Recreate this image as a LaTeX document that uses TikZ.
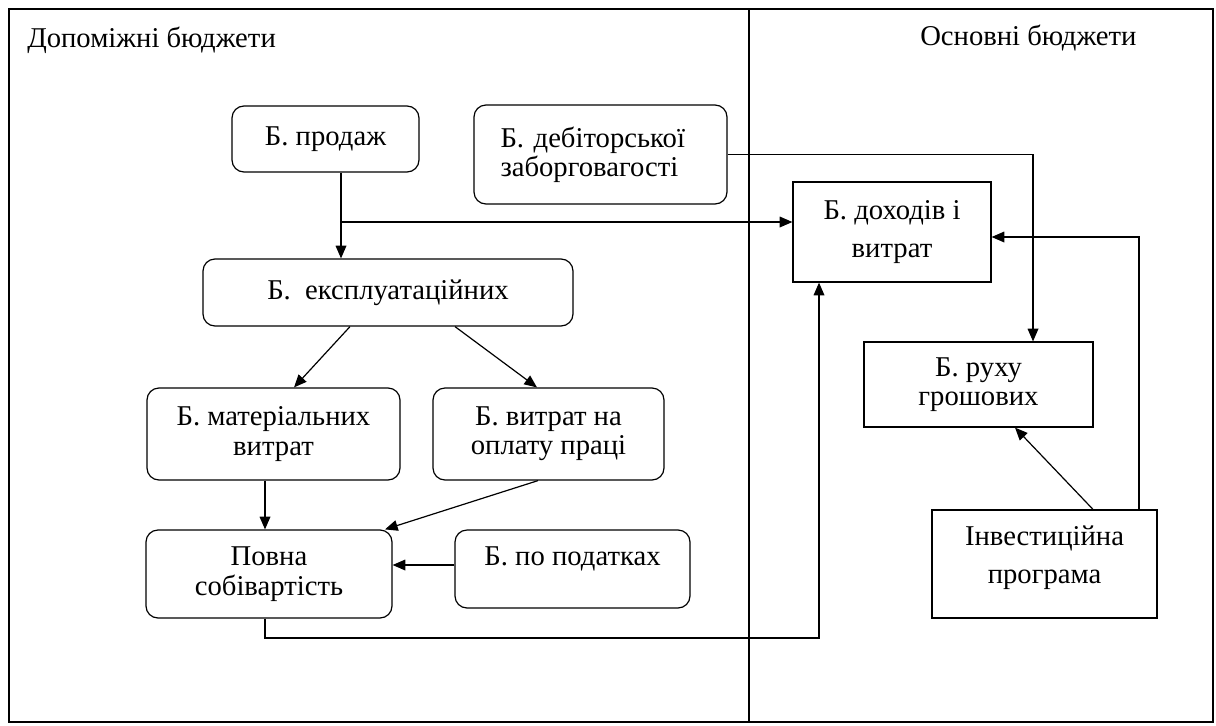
\documentclass[tikz,border=0pt]{standalone}
\usepackage{fontspec}
\setmainfont{Liberation Serif}
\usetikzlibrary{arrows.meta,calc}
\begin{document}
\begin{tikzpicture}[x=0.75pt,y=-0.75pt,
  txt/.style={font=\fontsize{21.5}{22}\selectfont},
  rbox/.style={draw, rounded corners=9pt, line width=0.9pt, align=center, inner sep=0pt, txt},
  sbox/.style={draw, line width=0.9pt, align=center, inner sep=0pt, txt},
  arr/.style={-{Triangle[length=9.5pt,width=8pt]}, line width=0.9pt},
  frame/.style={line width=0.9pt}]
\useasboundingbox (0,0) rectangle (1216,725);
% frame
\coordinate (f1) at (9,9);
\coordinate (f2) at (1213,722);
\coordinate (d1) at (749,9);
\coordinate (d2) at (749,722);
\draw[frame] (f1) rectangle (f2);
\draw[frame] (d1) -- (d2);
\node[txt, anchor=west, inner sep=0pt] (t1) at (27,40) {Допоміжні бюджети};
\node[txt, anchor=west, inner sep=0pt] (t2) at (920,38) {Основні бюджети};
% boxes
\node[rbox, minimum width=140.25pt, minimum height=49.5pt] (prod) at (325.5,139) {Б. продаж};
\node[rbox, minimum width=189.75pt, minimum height=74.25pt, text width=150pt, align=left] (deb) at (600.5,154.5) {Б. дебіторської\\заборговагості};
\node[rbox, minimum width=277.5pt, minimum height=50.25pt] (expl) at (388,292.5) {Б.\ \ експлуатаційних};
\node[rbox, minimum width=189.75pt, minimum height=69pt] (mat) at (273.5,434) {Б. матеріальних\\витрат};
\node[rbox, minimum width=173.25pt, minimum height=69pt] (opl) at (548.5,434) {Б. витрат на\\оплату праці};
\node[rbox, minimum width=184.5pt, minimum height=66pt] (povna) at (269,574) {Повна\\собівартість};
\node[rbox, minimum width=176.25pt, minimum height=58.5pt] (pod) at (572.5,569) {Б. по податках\\[-3pt]\mbox{}};
\node[sbox, minimum width=148.5pt, minimum height=75pt] (doh) at (892,232) {Б. доходів і\\[7pt]витрат};
\node[sbox, minimum width=171.75pt, minimum height=63.75pt] (ruh) at (978.5,384.5) {Б. руху\\грошових};
\node[sbox, minimum width=168.75pt, minimum height=81pt] (inv) at (1044.5,564) {Інвестиційна\\[6pt]програма\\[-8pt]\mbox{}};
% helper coordinates
\coordinate (j) at (341,222);
\coordinate (c1) at (1033,154);
\coordinate (b1) at (265,638);
\coordinate (b2) at (819,638);
\coordinate (r1) at (1139,237);
% connectors
\draw[arr] (prod.south -| j) -- (expl.north -| j);
\draw[arr] (j) -- (doh.west |- j);
\draw[arr] (deb.east) -- (deb.east -| c1) -- (ruh.north -| c1);
\draw[arr] (expl.south -| 350,0) -- (mat.north -| 294,0);
\draw[arr] (expl.south -| 455,0) -- (opl.north -| 537,0);
\draw[arr] (mat.south -| 265,0) -- (povna.north -| 265,0);
\draw[arr] (opl.south -| 538,0) -- (povna.north -| 385,0);
\draw[arr] (pod.west |- 0,565) -- (povna.east |- 0,565);
\draw[arr] (povna.south -| b1) -- (b1) -- (b2) -- (doh.south -| b2);
\draw[arr] (inv.north -| 1093,0) -- (ruh.south -| 1015,0);
\draw[arr] (inv.north -| r1) -- (r1) -- (doh.east |- r1);
\end{tikzpicture}
\end{document}
